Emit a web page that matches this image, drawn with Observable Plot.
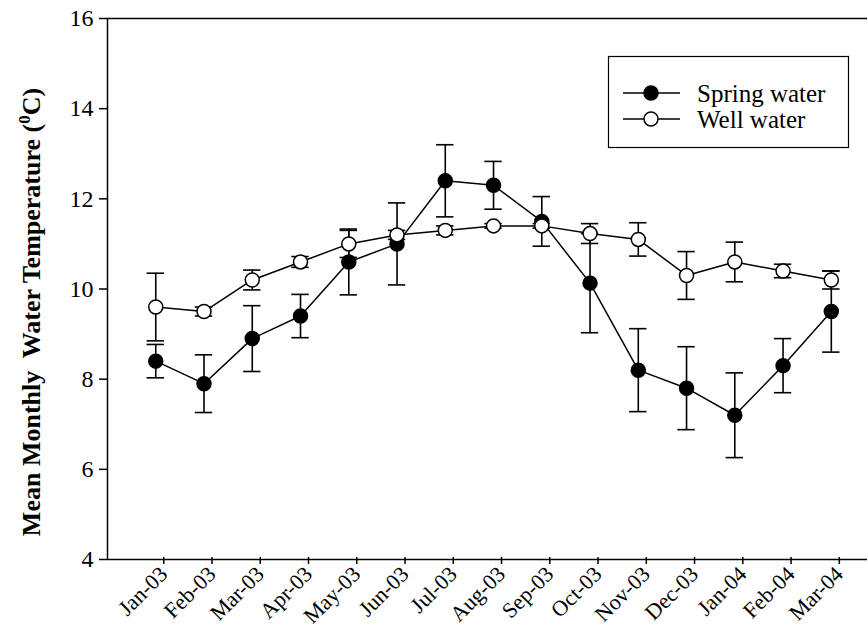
<!DOCTYPE html>
<html><head><meta charset="utf-8">
<script src="https://cdn.jsdelivr.net/npm/d3@7"></script>
<script src="https://cdn.jsdelivr.net/npm/@observablehq/plot@0.6"></script>
<style>body{margin:0;background:#fff} #chart{width:868px;height:630px}
#chart svg text{font-family:"Liberation Serif",serif !important;}
</style>
</head><body><div id="chart"></div>
<script>
const months = ["Jan-03","Feb-03","Mar-03","Apr-03","May-03","Jun-03","Jul-03","Aug-03","Sep-03","Oct-03","Nov-03","Dec-03","Jan-04","Feb-04","Mar-04"];
const springMean = [8.4,7.9,8.9,9.4,10.6,11.0,12.4,12.3,11.5,10.13,8.2,7.8,7.2,8.3,9.5];
const springErr  = [0.37,0.64,0.73,0.48,0.73,0.91,0.8,0.53,0.55,1.1,0.92,0.92,0.94,0.6,0.9];
const wellMean   = [9.6,9.5,10.2,10.6,11.0,11.2,11.3,11.4,11.4,11.23,11.1,10.3,10.6,10.4,10.2];
const wellErr    = [0.75,0.1,0.22,0.12,0.3,0.1,0.1,0.05,0.05,0.22,0.37,0.53,0.44,0.15,0.2];
const yTicks = [4,6,8,10,12,14,16];
const seriesNames = ["Spring water","Well water"];

const FONT = "Liberation Serif";
const spring = months.map((m,i)=>({i, mean: springMean[i], err: springErr[i]}));
const well = months.map((m,i)=>({i, mean: wellMean[i], err: wellErr[i]}));
const cap = 0.18;

function seriesMarks(data, fill) {
  return [
    Plot.ruleX(data, {x:"i", y1:d=>d.mean-d.err, y2:d=>d.mean+d.err, stroke:"black", strokeWidth:1.6}),
    Plot.ruleY(data, {y:d=>d.mean+d.err, x1:d=>d.i-cap, x2:d=>d.i+cap, stroke:"black", strokeWidth:1.6}),
    Plot.ruleY(data, {y:d=>d.mean-d.err, x1:d=>d.i-cap, x2:d=>d.i+cap, stroke:"black", strokeWidth:1.6}),
    Plot.line(data, {x:"i", y:"mean", stroke:"black", strokeWidth:1.5}),
    Plot.dot(data, {x:"i", y:"mean", r:7, fill, stroke:"black", strokeWidth:1.5})
  ];
}

const svg = Plot.plot({
  width: 868, height: 630,
  marginLeft: 107, marginRight: 1, marginTop: 18, marginBottom: 71,
  style: {fontFamily: FONT, fontSize: "22px", color: "black", background: "white"},
  x: {type: "linear", domain: [-1, 14.75]},
  y: {domain: [4, 16]},
  marks: [
    Plot.axisX({ticks: d3.range(months.length), tickFormat: i => months[i], tickRotate: -45, tickSize: 7, tickPadding: 6, dx: 8, dy: -2, label: null, strokeWidth: 1.5, fill: "black", fontSize: 22}),
    Plot.axisY({ticks: yTicks, tickSize: 8, tickPadding: 6, label: null, strokeWidth: 1.5, tickFormat: d => d, fill: "black", fontSize: 24}),
    Plot.ruleY([4], {stroke:"black", strokeWidth:1.5}),
    Plot.ruleY([16], {stroke:"black", strokeWidth:1.5}),
    Plot.ruleX([-1], {stroke:"black", strokeWidth:1.5}),
    ...seriesMarks(spring, "black"),
    ...seriesMarks(well, "white")
  ]
});

const s = d3.select(svg);
s.selectAll("text").each(function() {
  let p = this.parentNode, lab = "";
  while (p && p !== svg) { const a = p.getAttribute && p.getAttribute("aria-label"); if (a) { lab = a; break; } p = p.parentNode; }
  this.style.fontFamily = FONT;
  if (lab.startsWith("y-axis")) this.style.fontSize = "24px";
  else if (lab.startsWith("x-axis")) this.style.fontSize = "22px";
});

// y-axis title
const t = s.append("text")
  .attr("transform", "translate(40,312) rotate(-90)")
  .attr("text-anchor", "middle")
  .attr("font-weight", "bold")
  .style("font-size", "26px")
  .attr("fill", "black");
t.append("tspan").text("Mean Monthly  Water Temperature (");
t.append("tspan").style("font-size", "17px").attr("dy", -10).text("0");
t.append("tspan").attr("dy", 10).text("C)");

// legend
const lg = s.append("g");
lg.append("rect").attr("x", 608.5).attr("y", 56.5).attr("width", 240).attr("height", 91)
  .attr("fill", "white").attr("stroke", "black").attr("stroke-width", 1.2);
const rows = [{name: seriesNames[0], fill: "black", y: 93}, {name: seriesNames[1], fill: "white", y: 119}];
rows.forEach(r => {
  lg.append("line").attr("x1", 623).attr("x2", 680).attr("y1", r.y).attr("y2", r.y).attr("stroke", "black").attr("stroke-width", 1.5);
  lg.append("circle").attr("cx", 651).attr("cy", r.y).attr("r", 7).attr("fill", r.fill).attr("stroke", "black").attr("stroke-width", 1.5);
  lg.append("text").attr("x", 697).attr("y", r.y).attr("dy", "0.35em").attr("text-anchor", "start")
    .style("font-size", "25px").attr("fill", "black").text(r.name);
});

document.getElementById("chart").appendChild(svg);
</script>
</body></html>
